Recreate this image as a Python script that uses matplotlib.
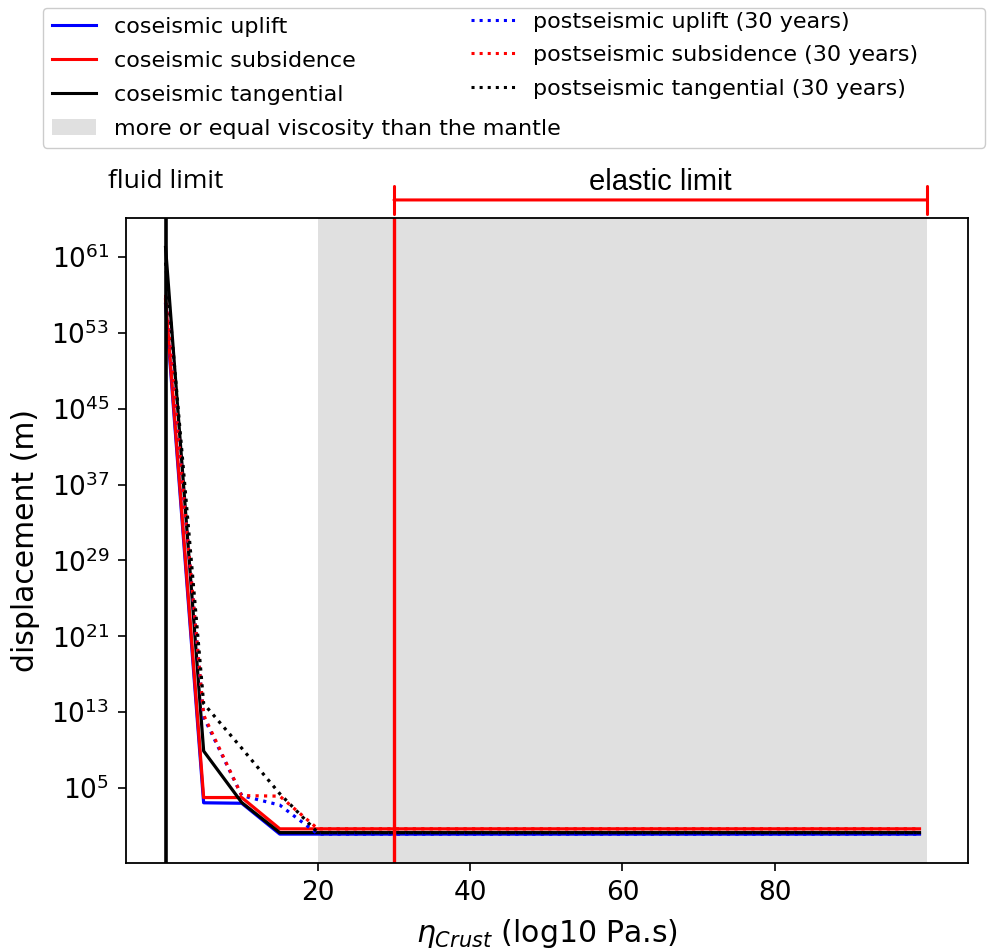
import matplotlib
matplotlib.use("Agg")
import matplotlib.pyplot as plt
from matplotlib.lines import Line2D
from matplotlib.patches import Patch
from matplotlib.ticker import NullLocator, FixedLocator, LogFormatterMathtext

# ---- data ----
eta_crust = [0, 5, 10, 15, 20, 30, 40, 50, 60, 70, 80, 90, 99]
co_uplift = [1e56, 2.8e3, 2.5e3, 1.4, 1.4, 1.4, 1.4, 1.4, 1.4, 1.4, 1.4, 1.4, 1.4]
co_subsidence = [3e56, 1e4, 1e4, 5, 5, 5, 5, 5, 5, 5, 5, 5, 5]
co_tangential = [1e62, 8e8, 3e3, 2, 2, 2, 2, 2, 2, 2, 2, 2, 2]
post_uplift = [1e57, 3e12, 1.6e4, 1.6e3, 1.4, 1.4, 1.4, 1.4, 1.4, 1.4, 1.4, 1.4, 1.4]
post_subsidence = [1e57, 5e12, 1.6e4, 1.4e4, 5, 5, 5, 5, 5, 5, 5, 5, 5]
post_tangential = [2.5e60, 8e13, 1.6e9, 2.5e4, 2, 2, 2, 2, 2, 2, 2, 2, 2]
mantle_span = [20, 100]
fluid_limit = 0
elastic_limit = [30, 100]
xtick_values = [20, 40, 60, 80]
ytick_exponents = [5, 13, 21, 29, 37, 45, 53, 61]

fig = plt.figure(figsize=(9.88, 9.52), dpi=100)
ax = fig.add_axes([0.1275, 0.0935, 0.8525, 0.6775])

gray = "#e0e0e0"
ax.axvspan(mantle_span[0], mantle_span[1], color=gray, lw=0, zorder=0)

lw = 2.3
ax.plot(eta_crust, co_uplift, color="blue", lw=lw)
ax.plot(eta_crust, co_subsidence, color="red", lw=lw)
ax.plot(eta_crust, co_tangential, color="black", lw=lw)
ax.plot(eta_crust, post_uplift, color="blue", lw=lw, ls=":")
ax.plot(eta_crust, post_subsidence, color="red", lw=lw, ls=":")
ax.plot(eta_crust, post_tangential, color="black", lw=lw, ls=":")

ax.axvline(fluid_limit, color="black", lw=2.6)
ax.axvline(elastic_limit[0], color="red", lw=2.4)

ax.set_yscale("log")
ax.set_xlim(-5.2, 105.4)
ax.set_ylim(10**-2.9, 10**65.1)
ax.yaxis.set_major_locator(FixedLocator([10.0**e for e in ytick_exponents]))
ax.yaxis.set_major_formatter(LogFormatterMathtext())
ax.yaxis.set_minor_locator(NullLocator())
ax.set_xticks(xtick_values)
ax.tick_params(axis="both", labelsize=19, length=6, width=1.2, pad=6)
for s in ax.spines.values():
    s.set_linewidth(1.3)

ax.set_ylabel("displacement (m)", fontsize=21.5, labelpad=8)
ax.set_xlabel(r"$\eta_{Crust}$ (log10 Pa.s)", fontsize=21.5, labelpad=8)

# limit annotations
ax.text(fluid_limit, 1.056, "fluid limit", transform=ax.get_xaxis_transform(),
        ha="center", va="center", fontsize=19, family=["Open Sans", "DejaVu Sans"])
ax.annotate("", xy=(elastic_limit[0], 1.028), xytext=(elastic_limit[1], 1.028),
            xycoords=ax.get_xaxis_transform(), textcoords=ax.get_xaxis_transform(),
            arrowprops=dict(arrowstyle="|-|, widthA=0.5, widthB=0.5", color="red",
                            lw=2.2, shrinkA=0, shrinkB=0, mutation_scale=20),
            annotation_clip=False)
ax.text((elastic_limit[0] + elastic_limit[1]) / 2, 1.056, "elastic limit",
        transform=ax.get_xaxis_transform(), ha="center", va="center",
        fontsize=21, family=["Liberation Sans", "DejaVu Sans"])

# legends
h1 = [Line2D([], [], color="blue", lw=2.2),
      Line2D([], [], color="red", lw=2.2),
      Line2D([], [], color="black", lw=2.2),
      Patch(facecolor=gray, edgecolor="none")]
l1 = ["coseismic uplift", "coseismic subsidence", "coseismic tangential",
      "more or equal viscosity than the mantle"]
h2 = [Line2D([], [], color="blue", lw=2.2, ls=":"),
      Line2D([], [], color="red", lw=2.2, ls=":"),
      Line2D([], [], color="black", lw=2.2, ls=":")]
l2 = ["postseismic uplift (30 years)", "postseismic subsidence (30 years)",
      "postseismic tangential (30 years)"]

W, H = 988.0, 952.0
leg1 = fig.legend(h1, l1, loc="upper left",
                  bbox_to_anchor=(43 / W, 1 - 8 / H, (985 - 43) / W, 0.0),
                  mode="expand", ncol=1, fontsize=16, labelspacing=0.63,
                  fancybox=True, framealpha=1, edgecolor="#cccccc",
                  handlelength=2.0, handletextpad=0.8, borderaxespad=0)
leg2 = fig.legend(h2, l2, loc="upper left",
                  bbox_to_anchor=(462 / W, 1 - 3 / H), fontsize=16, labelspacing=0.6,
                  frameon=False, handlelength=2.0, handletextpad=0.8, borderaxespad=0)

fig.savefig("out.png", dpi=100)
